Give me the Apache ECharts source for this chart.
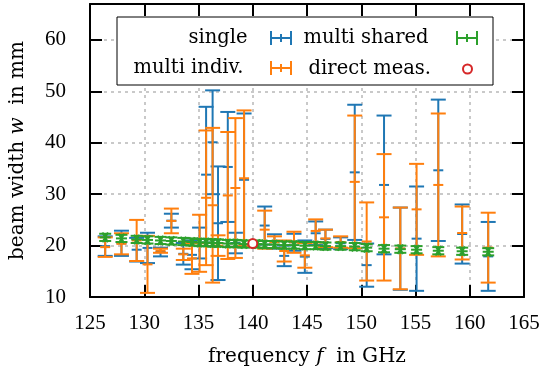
<!DOCTYPE html>
<html><head><meta charset="utf-8">
<script src="https://cdn.jsdelivr.net/npm/echarts@6/dist/echarts.min.js"></script>
<style>html,body{margin:0;padding:0;background:#fff}#c{width:545px;height:373px}</style>
</head><body><div id="c"></div>
<script>
// frequencies (GHz) of the single / multi-indiv. measurements
const freqs = [126.4,127.9,129.3,130.3,131.5,132.5,133.6,134.4,135.1,135.7,136.3,136.8,137.7,138.4,139.2,
               141.1,142.0,142.9,143.8,144.8,145.8,146.7,148.1,149.4,150.5,152.1,153.6,155.1,157.1,159.3,161.7];
// "single" (blue) lower / upper ends of the error bars (mm)
const singleLow  = [18.0,18.0,16.9,16.6,17.9,23.5,16.3,15.4,17.5,20.6,30.0,13.3,24.6,18.5,19.9,
                    20.2,19.4,16.0,19.0,14.7,20.1,19.5,19.3,21.1,12.0,18.3,11.4,11.2,20.9,16.5,11.2];
const singleHigh = [21.8,22.9,21.5,22.5,19.6,26.2,20.5,21.0,23.5,47.0,50.2,35.4,46.0,22.5,45.7,
                    27.6,22.2,20.0,22.3,21.0,24.7,23.1,21.6,47.4,20.4,45.3,27.4,31.5,48.4,28.0,24.6];
// "multi indiv." (orange)
const indivLow   = [17.8,18.3,17.0,10.8,18.6,22.4,17.2,14.5,14.9,16.2,12.8,18.0,17.4,17.6,19.9,
                    19.4,19.5,16.9,18.6,15.7,20.6,19.7,19.6,19.5,13.2,13.2,11.5,18.2,17.9,17.3,12.8];
const indivHigh  = [21.6,22.4,25.0,21.9,19.4,27.2,19.4,20.5,26.0,42.4,42.9,22.0,42.1,44.8,46.3,
                    26.8,21.8,21.0,22.7,20.5,25.1,23.1,21.8,45.3,28.4,37.8,27.4,35.9,45.7,27.6,26.4];
// "multi shared" (green): frequency, value, +/- error
const sharedFreq = [126.4,127.9,129.3,130.3,131.5,132.5,133.6,134.4,135.1,135.7,136.3,136.8,137.7,138.4,139.2,140.4,
                    141.1,142.0,142.9,143.8,144.8,145.8,146.7,148.1,149.4,150.5,152.1,153.6,155.1,157.1,159.3,161.7];
const sharedVal  = [21.6,21.4,21.2,21.1,21.0,20.9,20.8,20.7,20.6,20.6,20.5,20.5,20.4,20.4,20.3,20.3,
                    20.2,20.2,20.1,20.1,20.0,20.0,19.9,19.9,19.8,19.6,19.4,19.3,19.2,19.0,18.9,18.8];
const sharedErr  = [0.7,0.7,0.7,0.7,0.7,0.7,0.7,0.7,0.7,0.7,0.7,0.7,0.7,0.7,0.7,0.7,
                    0.7,0.7,0.7,0.7,0.7,0.7,0.7,0.7,0.7,0.7,0.7,0.7,0.7,0.7,0.7,0.7];
// "direct meas." (red)
const directFreq = [140.0];
const directVal  = [20.4];

const xTicks = [125,130,135,140,145,150,155,160,165];
const yTicks = [10,20,30,40,50,60];

const C_BLUE='#1f77b4', C_ORANGE='#ff7f0e', C_GREEN='#2ca02c', C_RED='#d62728';
const FONT='DejaVu Serif';

function errRender(color, capHalf, dashHalf, lw, star){
  return function(params, api){
    const f=api.value(0), lo=api.value(1), hi=api.value(2), mid=api.value(3);
    const pH=api.coord([f,hi]), pL=api.coord([f,lo]), pC=api.coord([f,mid]);
    const st={stroke:color, lineWidth:lw, fill:null};
    const ch=[
      {type:'line',shape:{x1:pH[0],y1:pH[1],x2:pL[0],y2:pL[1]},style:st},
      {type:'line',shape:{x1:pH[0]-capHalf,y1:pH[1],x2:pH[0]+capHalf,y2:pH[1]},style:st},
      {type:'line',shape:{x1:pL[0]-capHalf,y1:pL[1],x2:pL[0]+capHalf,y2:pL[1]},style:st}
    ];
    if(star){
      const r=star;
      for(let k=0;k<3;k++){
        const a=k*Math.PI/3;
        ch.push({type:'line',shape:{x1:pC[0]-r*Math.cos(a),y1:pC[1]-r*Math.sin(a),x2:pC[0]+r*Math.cos(a),y2:pC[1]+r*Math.sin(a)},style:st});
      }
    } else {
      ch.push({type:'line',shape:{x1:pC[0]-dashHalf,y1:pC[1],x2:pC[0]+dashHalf,y2:pC[1]},style:st});
    }
    return {type:'group',children:ch};
  };
}

const singleData = freqs.map((f,i)=>[f,singleLow[i],singleHigh[i],(singleLow[i]+singleHigh[i])/2]);
const indivData  = freqs.map((f,i)=>[f,indivLow[i],indivHigh[i],(indivLow[i]+indivHigh[i])/2]);
const sharedData = sharedFreq.map((f,i)=>[f,sharedVal[i]-sharedErr[i],sharedVal[i]+sharedErr[i],sharedVal[i]]);
const directData = directFreq.map((f,i)=>[f,directVal[i]]);

const errIcon = 'path://M0,0L2,0L2,6L10,6L10,3L12,3L12,6L20,6L20,0L22,0L22,14L20,14L20,8L12,8L12,11L10,11L10,8L2,8L2,14L0,14Z';

function leg(name, right, top, icon, w, h, padR){
  return {data:[{name:name, icon:icon}], right:right, top:top, align:'right', orient:'horizontal',
    padding:0, itemWidth:w, itemHeight:h, selectedMode:false,
    textStyle:{fontFamily:FONT, fontSize:19.5, color:'#000', padding:[0,padR,0,0]}, z:10};
}

const axisCommon = {
  axisLine:{show:true,lineStyle:{color:'#000',width:2}},
  axisTick:{show:true,inside:true,length:12,lineStyle:{color:'#000',width:2}},
};
const titleRich = {a:{fontFamily:FONT,fontSize:20,color:'#000'},i:{fontFamily:FONT,fontSize:20,fontStyle:'italic',color:'#000'}};

const chart = echarts.init(document.getElementById('c'), null, {renderer:'canvas'});
chart.setOption({
  animation:false,
  backgroundColor:'#fff',
  grid:{left:85,right:21,top:4,bottom:76},
  xAxis:[
    Object.assign({type:'value',min:125,max:165,interval:5,position:'bottom',
      name:'{a|frequency }{i|f}{a|  in GHz}', nameLocation:'middle', nameGap:50,
      nameTextStyle:{rich:titleRich},
      axisLabel:{fontFamily:'Liberation Serif',fontSize:21,color:'#000',margin:16},
      splitLine:{show:true,lineStyle:{color:'#b8b8b8',type:[3,4],width:1.5}}},axisCommon),
    Object.assign({type:'value',min:125,max:165,interval:5,position:'top',
      axisLabel:{show:false},splitLine:{show:false}},axisCommon)
  ],
  yAxis:[
    Object.assign({type:'value',min:10,max:67,interval:10,position:'left',
      name:'{a|beam width }{i|w}{a|  in mm}', nameLocation:'middle', nameGap:62,
      nameTextStyle:{rich:titleRich},
      axisLabel:{fontFamily:'Liberation Serif',fontSize:21,color:'#000',margin:24,showMaxLabel:false},
      splitLine:{show:true,lineStyle:{color:'#b8b8b8',type:[3,4],width:1.5}}},axisCommon),
    Object.assign({type:'value',min:10,max:67,interval:10,position:'right',
      axisLabel:{show:false},splitLine:{show:false}},axisCommon)
  ],
  legend:[
    leg('single',253,28,errIcon,23,14,17),
    leg('multi shared',67,28,errIcon,23,14,22),
    leg('multi indiv.',253,58,errIcon,23,14,21),
    leg('direct meas.',72,59,'circle',9,9,27)
  ],
  graphic:[{type:'rect',shape:{x:117,y:17,width:376,height:68},
    style:{fill:'#fff',stroke:'#000',lineWidth:1},z:5}],
  series:[
    {name:'single',type:'custom',renderItem:errRender(C_BLUE,7.5,5,2,0),data:singleData,
     encode:{x:0,y:[1,2]},itemStyle:{color:C_BLUE},z:2},
    {name:'multi indiv.',type:'custom',renderItem:errRender(C_ORANGE,7.5,5,2,0),data:indivData,
     encode:{x:0,y:[1,2]},itemStyle:{color:C_ORANGE},z:3},
    {name:'multi shared',type:'custom',renderItem:errRender(C_GREEN,6,0,2,5.5),data:sharedData,
     encode:{x:0,y:[1,2]},itemStyle:{color:C_GREEN},z:4},
    {name:'direct meas.',type:'scatter',data:directData,symbol:'circle',symbolSize:9,
     itemStyle:{color:'#fff',borderColor:C_RED,borderWidth:2,opacity:1},z:5}
  ]
});
</script></body></html>
